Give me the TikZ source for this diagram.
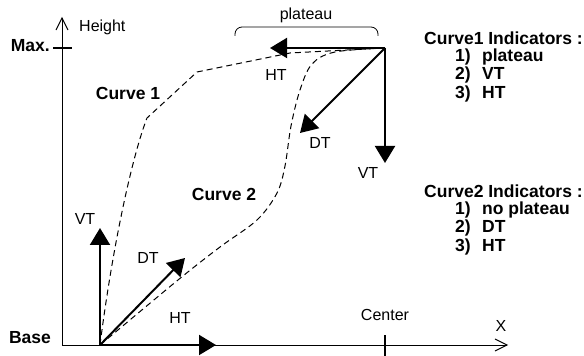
\documentclass[tikz,border=0pt]{standalone}
\usepackage{fontspec}
\setmainfont{Liberation Sans}
\usetikzlibrary{arrows.meta}
\tikzset{
  axis/.style={line width=0.9pt, -{Straight Barb[length=12pt,width=12pt]}},
  tick/.style={line width=1.2pt},
  vec/.style={line width=2pt, -{Triangle[length=17pt,width=20pt]}},
  trace/.style={line width=1pt, dash pattern=on 6pt off 4pt},
  lab/.style={inner sep=0pt, font=\fontsize{16}{19}\selectfont},
  blab/.style={inner sep=0pt, font=\fontsize{17.5}{20}\selectfont\bfseries}
}
\begin{document}
\begin{tikzpicture}[x=1pt, y=1pt]
\useasboundingbox (0,0) rectangle (584,356);

% Axes
\coordinate (O) at (62,11);
\coordinate (Ytop) at (62,339);
\coordinate (Xend) at (508,11);
\draw[axis] (O) -- (Ytop);
\draw[axis] (O) -- (Xend);

% Graduations Max. et Center
\coordinate (maxL) at (53,308);
\coordinate (maxR) at (72,308);
\draw[tick] (maxL) -- (maxR);
\coordinate (cenB) at (385,0);
\coordinate (cenT) at (385,21);
\draw[tick] (cenB) -- (cenT);

% Labels des axes
\node[blab, anchor=east] (max) at (50,310) {Max.};
\node[blab] (base) at (30,18) {Base};
\node[lab, anchor=west] (height) at (79,329) {Height};
\node[lab] (center) at (385,41) {Center};
\node[lab] (xlab) at (501,30) {X};

% Points de depart des vecteurs
\coordinate (B) at (100,11);
\coordinate (M) at (385,308);

% Courbes en pointilles
\draw[trace] (B) .. controls (114,120) and (134,205) .. (147,238) -- (197,284) -- (290,303) -- (M);
\draw[trace] plot[smooth, tension=0.55] coordinates {(B) (178,76) (220,109) (257,136) (277,163) (285,190) (291,230) (300,266) (312,292) (335,304) (M)};
\node[blab] (c1) at (128,263) {Curve 1};
\node[blab] (c2) at (224,162) {Curve 2};

% Vecteurs en bas (Curve 2)
\coordinate (vtB) at (100,128);
\coordinate (dtB) at (185,98);
\coordinate (htB) at (216,11);
\draw[vec] (B) -- (vtB);
\draw[vec] (B) -- (dtB);
\draw[vec] (B) -- (htB);
\node[lab] (vtBl) at (85,137) {VT};
\node[lab] (dtBl) at (148,98) {DT};
\node[lab] (htBl) at (180,38) {HT};

% Vecteurs en haut (Curve 1)
\coordinate (htM) at (270,308);
\coordinate (dtM) at (300,223);
\coordinate (vtM) at (385,193);
\draw[vec] (M) -- (htM);
\draw[vec] (M) -- (dtM);
\draw[vec] (M) -- (vtM);
\node[lab] (htMl) at (276,281) {HT};
\node[lab] (dtMl) at (320,213) {DT};
\node[lab] (vtMl) at (368,183) {VT};

% Accolade du plateau
\coordinate (brL) at (235,320);
\coordinate (brR) at (378,320);
\draw[line width=0.8pt, rounded corners=7pt] (brL) -- ++(0,9) -| (brR);
\node[lab] (plat) at (306,341) {plateau};

% Indicateurs
\node[blab, anchor=west] (ind1) at (424,318) {Curve1 Indicators :};
\node[blab, anchor=west] (ind1a) at (455,299.5) {\makebox[27pt][l]{1)}plateau};
\node[blab, anchor=west] (ind1b) at (455,281) {\makebox[27pt][l]{2)}VT};
\node[blab, anchor=west] (ind1c) at (455,262.5) {\makebox[27pt][l]{3)}HT};
\node[blab, anchor=west] (ind2) at (424,165) {Curve2 Indicators :};
\node[blab, anchor=west] (ind2a) at (455,146.5) {\makebox[27pt][l]{1)}no plateau};
\node[blab, anchor=west] (ind2b) at (455,128) {\makebox[27pt][l]{2)}DT};
\node[blab, anchor=west] (ind2c) at (455,109.5) {\makebox[27pt][l]{3)}HT};
\end{tikzpicture}
\end{document}
